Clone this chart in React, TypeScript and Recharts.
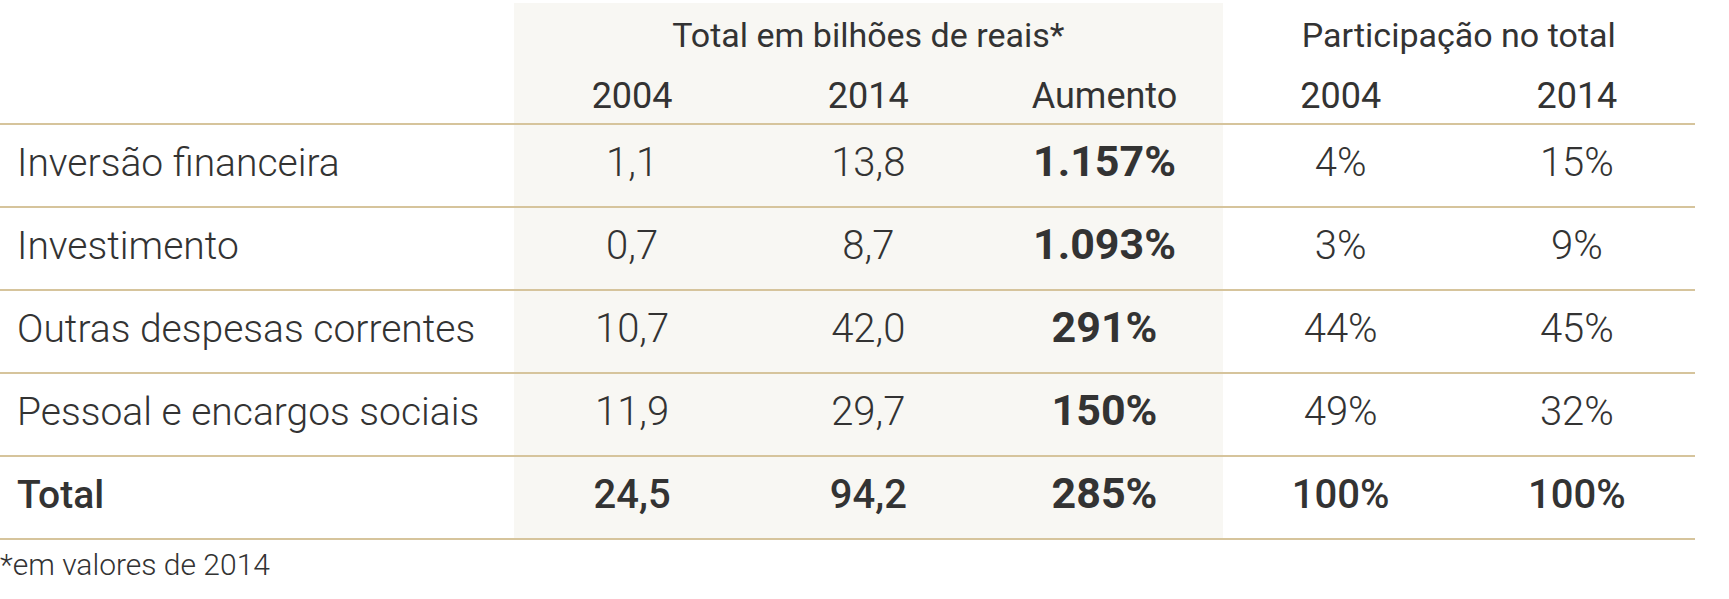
import { CartesianGrid, Scatter, ScatterChart, XAxis, YAxis } from 'recharts'

const rows = [
  'Inversão financeira',
  'Investimento',
  'Outras despesas correntes',
  'Pessoal e encargos sociais',
  'Total',
]
const colKeys = ['t2004', 't2014', 'aum', 'p2004', 'p2014']
const colLabels = ['2004', '2014', 'Aumento', '2004', '2014']

// bilhões de reais (valores de 2014)
const total2004 = [1.1, 0.7, 10.7, 11.9, 24.5]
const total2014 = [13.8, 8.7, 42.0, 29.7, 94.2]
const aumento = [1157, 1093, 291, 150, 285]
const part2004 = [4, 3, 44, 49, 100]
const part2014 = [15, 9, 45, 32, 100]

const W = 1729
const H = 599
const TOP = 124
const LINE_BOTTOM = 539
const PLOT_LEFT = 514
const PLOT_RIGHT = 1695
const ROW_H = (LINE_BOTTOM - TOP) / rows.length
const COL_W = (PLOT_RIGHT - PLOT_LEFT) / colKeys.length

const FONT = 'Roboto, "Noto Sans", sans-serif'
const TEXT = '#333333'
const RULE = '#d6c49c'
const SHADE = '#f8f7f3'

const dec = (v: number) => v.toFixed(1).replace('.', ',')
const thousands = (v: number) => String(v).replace(/\B(?=(\d{3})+(?!\d))/g, '.')

const cells = rows.flatMap((row, i) => {
  const isTotal = i === rows.length - 1
  const w = isTotal ? 500 : 300
  return [
    { col: 't2004', row, text: dec(total2004[i]), weight: w },
    { col: 't2014', row, text: dec(total2014[i]), weight: w },
    { col: 'aum', row, text: thousands(aumento[i]) + '%', weight: 700 },
    { col: 'p2004', row, text: part2004[i] + '%', weight: w },
    { col: 'p2014', row, text: part2014[i] + '%', weight: w },
  ]
})

const CellText = (props: any) => {
  const { cx, cy, payload } = props
  return (
    <text
      x={cx}
      y={cy + 10}
      textAnchor="middle"
      fontFamily={FONT}
      fontSize={payload.weight === 700 ? 43 : 40}
      fontWeight={payload.weight}
      fill={TEXT}
    >
      {payload.text}
    </text>
  )
}

const ColTick = (props: any) => {
  const { x, payload } = props
  const i = colKeys.indexOf(payload.value)
  return (
    <g>
      <text x={x} y={108} textAnchor="middle" fontFamily={FONT} fontSize={36} fontWeight={400} fill={TEXT}>
        {colLabels[i]}
      </text>
      {i === 1 && (
        <text x={x} y={47} textAnchor="middle" fontFamily={FONT} fontSize={34} fontWeight={400} fill={TEXT}>
          Total em bilhões de reais*
        </text>
      )}
      {i === 3 && (
        <text x={x + COL_W / 2} y={47} textAnchor="middle" fontFamily={FONT} fontSize={34} fontWeight={400} fill={TEXT}>
          Participação no total
        </text>
      )}
    </g>
  )
}

const RowTick = (props: any) => {
  const { y, payload } = props
  const isTotal = payload.value === 'Total'
  return (
    <text
      x={17}
      y={y + 10}
      textAnchor="start"
      fontFamily={FONT}
      fontSize={39}
      fontWeight={isTotal ? 500 : 300}
      fill={TEXT}
    >
      {payload.value}
    </text>
  )
}

const rulePoints = rows.map((_, i) => TOP + i * ROW_H).concat(LINE_BOTTOM)

export default function App() {
  return (
    <div style={{ position: 'absolute', left: 0, top: 0, width: W, height: H, background: '#fff' }}>
      <ScatterChart width={W} height={H} margin={{ top: 0, right: W - PLOT_RIGHT, bottom: H - LINE_BOTTOM, left: 0 }}>
        <CartesianGrid
          x={0}
          y={3}
          width={PLOT_RIGHT}
          height={LINE_BOTTOM - 3}
          vertical={(p: any) => <g key={p.key} />}
          horizontalPoints={rulePoints}
          verticalPoints={[PLOT_LEFT, PLOT_LEFT + 3 * COL_W]}
          verticalFill={['none', SHADE, 'none']}
          stroke={RULE}
          strokeWidth={2}
        />
        <XAxis
          type="category"
          dataKey="col"
          orientation="top"
          allowDuplicatedCategory={false}
          height={TOP}
          axisLine={false}
          tickLine={false}
          tick={<ColTick />}
          interval={0}
        />
        <YAxis
          type="category"
          dataKey="row"
          allowDuplicatedCategory={false}
          reversed
          width={PLOT_LEFT}
          axisLine={false}
          tickLine={false}
          tick={<RowTick />}
          interval={0}
        />
        <Scatter data={cells} shape={<CellText />} isAnimationActive={false} />
        <text x={0} y={575} fontFamily={FONT} fontSize={30} fontWeight={300} fill={TEXT}>
          *em valores de 2014
        </text>
      </ScatterChart>
    </div>
  )
}
